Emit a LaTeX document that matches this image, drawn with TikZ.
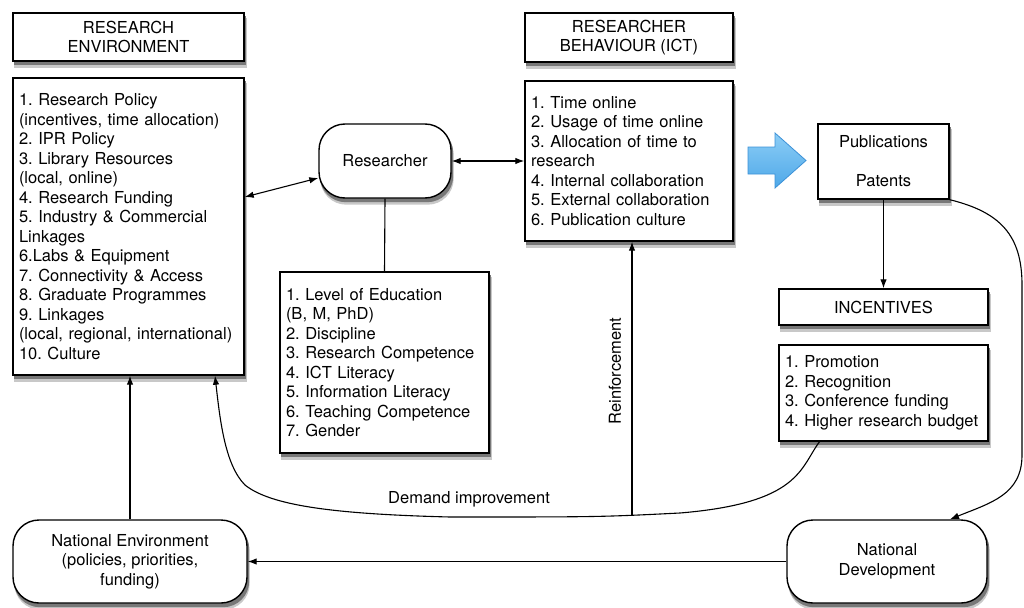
\documentclass[tikz,border=0pt]{standalone}
\usepackage{fontspec}
\setmainfont{TeX Gyre Heros}
\usetikzlibrary{arrows.meta,backgrounds,calc}

\definecolor{arrowblue}{RGB}{78,168,232}
\definecolor{arrowlight}{RGB}{140,205,246}
\definecolor{arrowedge}{RGB}{60,145,215}
\definecolor{shadowdark}{RGB}{120,120,120}
\definecolor{shadowlight}{RGB}{200,200,200}

\begin{document}
\begin{tikzpicture}[x=1pt,y=-1pt,>={Latex[length=9pt,width=6.5pt]},
  every node/.style={font=\fontsize{16.5}{19.5}\selectfont\frenchspacing},
  box/.style={draw,line width=1.4pt,fill=white,inner sep=0pt,align=center},
  listbox/.style={box,align=left,inner xsep=6pt},
  roundbox/.style={box,rounded corners=26pt},
  link/.style={line width=1.1pt}]

\useasboundingbox (0,0) rectangle (1024,607);

% left column
\node[box,minimum width=231pt,minimum height=48pt] (envtitle) at (128.5,37) {RESEARCH\\ENVIRONMENT};
\node[listbox,text width=219pt,minimum height=297pt] (envlist) at (128.5,226.5)
  {1. Research Policy\\(incentives, time allocation)\\2. IPR Policy\\3. Library Resources\\(local, online)\\4. Research Funding\\5. Industry \& Commercial\\Linkages\\6.Labs \& Equipment\\7. Connectivity \& Access\\8. Graduate Programmes\\9. Linkages\\(local, regional, international)\\10. Culture};

% researcher
\node[roundbox,minimum width=132pt,minimum height=74pt] (researcher) at (385,161) {Researcher};
\node[listbox,text width=197pt,minimum height=181pt] (personal) at (384.5,362.5)
  {1. Level of Education\\(B, M, PhD)\\2. Discipline\\3. Research Competence\\4. ICT Literacy\\5. Information Literacy\\6. Teaching Competence\\7. Gender};

% behaviour
\node[box,minimum width=208pt,minimum height=49pt] (behtitle) at (629,37.5) {RESEARCHER\\BEHAVIOUR (ICT)};
\node[listbox,text width=196pt,minimum height=160pt] (behlist) at (629,161)
  {1. Time online\\2. Usage of time online\\3. Allocation of time to\\research\\4. Internal collaboration\\5. External collaboration\\6. Publication culture};

% outputs and incentives
\node[box,minimum width=131pt,minimum height=75pt] (pubs) at (883.5,161.5) {Publications\\[19.5pt]Patents};
\node[box,minimum width=209pt,minimum height=36pt] (inctitle) at (883.5,307) {INCENTIVES};
\node[listbox,text width=197pt,minimum height=96pt] (inclist) at (883.5,393)
  {1. Promotion\\2. Recognition\\3. Conference funding\\4. Higher research budget};

% national level
\node[roundbox,minimum width=234pt,minimum height=83pt] (natenv) at (130,561.5) {National Environment\\(policies, priorities,\\funding)};
\node[roundbox,minimum width=200pt,minimum height=83pt] (natdev) at (887,561.5) {National\\Development};

% shadows
\begin{pgfonlayer}{background}
\foreach \nd in {envtitle,envlist,personal,behtitle,behlist,pubs,inctitle,inclist} {
  \fill[shadowlight] ($(\nd.north west)+(2,6)$) rectangle ($(\nd.south east)+(2,6)$);
  \fill[shadowdark] ($(\nd.north west)+(1.5,3.5)$) rectangle ($(\nd.south east)+(1.5,3.5)$);
}
\foreach \nd in {researcher,natenv,natdev} {
  \fill[shadowlight,rounded corners=26pt] ($(\nd.north west)+(2,6)$) rectangle ($(\nd.south east)+(2,6)$);
  \fill[shadowdark,rounded corners=26pt] ($(\nd.north west)+(1.5,3.5)$) rectangle ($(\nd.south east)+(1.5,3.5)$);
}
\end{pgfonlayer}

% big blue arrow
\draw[line width=0.8pt,draw=arrowedge,top color=arrowlight,bottom color=arrowblue]
  (748,147) -- (775,147) -- (775,133) -- (806,160.5) -- (775,188) -- (775,174) -- (748,174) -- cycle;

\draw[link,<->] ([yshift=29.5pt]envlist.east) -- ([yshift=-17pt]researcher.west);
\draw[link,<->] (researcher.east) -- (behlist.west);
\draw[link] (researcher.south) -- (personal.north);
\draw[link,->] (pubs.south) -- (inctitle.north);
\draw[link,->] (pubs.south east) .. controls (1000,212) and (1022,235) .. (1022,285)
  -- (1022,455) .. controls (1022,495) and (990,503) .. ([xshift=63pt]natdev.north);
\draw[link,->] (natdev.west) -- (natenv.east);
\draw[link,->] (natenv.north) -- (natenv.north |- envlist.south);

% feedback
\draw[link,->] ([xshift=-64pt]inclist.south) .. controls (800,468) and (800,503) .. (680,513)
  .. controls (600,517) .. (450,517) .. controls (330,514) and (270,505) .. (245,485)
  .. controls (225,465) and (220,420) .. ([xshift=86.5pt]envlist.south);
\node (demandlbl) at (469,499) {Demand improvement};

\coordinate (reinf) at (632,515.5);
\draw[link,->] (reinf) -- (reinf |- behlist.south);
\node[rotate=90] (reinflbl) at (615,371) {Reinforcement};

\end{tikzpicture}
\end{document}
